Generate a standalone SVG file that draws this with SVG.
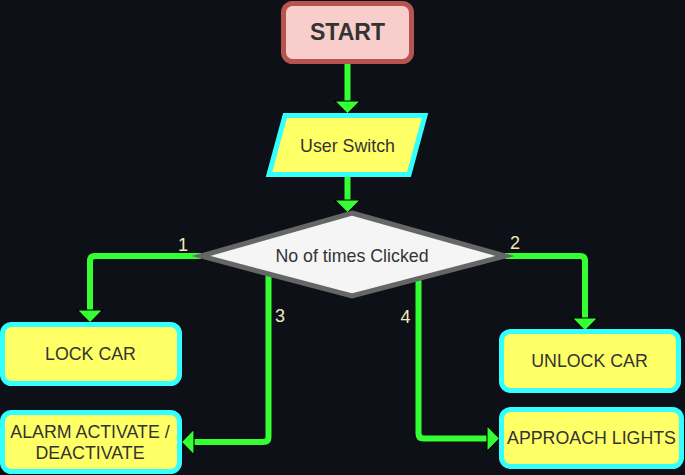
<svg xmlns="http://www.w3.org/2000/svg" width="685" height="475" viewBox="0 0 685 475">
  <defs>
    <style>
      text { font-family: "Liberation Sans", Arial, sans-serif; fill: #333333; font-size: 17.8px; text-anchor: middle; }
      .title { font-weight: bold; font-size: 23px; }
      .lbl { fill: #F5E6BC; font-size: 18px; }
      .conn { fill: none; stroke: #33FF33; stroke-width: 6; stroke-linejoin: round; marker-end: url(#ah); }
      .plain { fill: none; stroke: #33FF33; stroke-width: 6; stroke-linejoin: round; }
      .box { fill: #FFFF66; stroke: #33FFFF; stroke-width: 5; }
    </style>
    <marker id="ah" markerUnits="userSpaceOnUse" markerWidth="16" markerHeight="28" viewBox="-1 -13 15 26" refX="0" refY="0" orient="auto" overflow="visible">
      <path d="M0,-12 L12,0 L0,12 Z" fill="#33FF33" stroke="#000000" stroke-width="1"/>
    </marker>
  </defs>
  <rect x="0" y="0" width="685" height="475" fill="#0D1117"/>

  <g id="connectors">
    <path class="conn" d="M347.5,64 V101"/>
    <path class="conn" d="M347.5,176 V200"/>
    <path class="conn" d="M201,256 H95 Q90,256 90,261 V310"/>
    <path class="conn" d="M505,256 H580 Q585,256 585,261 V318"/>
    <path class="conn" d="M268.5,274 V437 Q268.5,442 263.5,442 H194"/>
    <path class="conn" d="M418.5,279 V433.5 Q418.5,438.5 423.5,438.5 H487"/>
    <text class="lbl" x="183" y="251">1</text>
    <text class="lbl" x="515" y="249">2</text>
    <text class="lbl" x="280" y="322">3</text>
    <text class="lbl" x="405.5" y="323">4</text>
  </g>

  <g id="start">
    <rect x="283.5" y="3.5" width="128" height="58" rx="9" fill="#F8CECC" stroke="#B85450" stroke-width="5"/>
    <text class="title" x="347.5" y="40">START</text>
  </g>

  <g id="user-switch">
    <polygon points="285,115.5 425,115.5 409,174.5 269,174.5" fill="#FFFF66" stroke="#33FFFF" stroke-width="5"/>
    <text x="347.5" y="152">User Switch</text>
  </g>

  <g id="decision">
    <polygon points="352,213 505,256 352,296 201,256" fill="#F5F5F5" stroke="#666666" stroke-width="5"/>
    <text x="352" y="262">No of times Clicked</text>
  </g>

  <g id="lock-car">
    <rect class="box" x="2.5" y="324.5" width="177" height="59" rx="9"/>
    <text x="90.5" y="360">LOCK CAR</text>
  </g>

  <g id="alarm">
    <rect class="box" x="2.5" y="412.5" width="177" height="59" rx="9"/>
    <text x="90" y="438">ALARM ACTIVATE /</text>
    <text x="90" y="459">DEACTIVATE</text>
  </g>

  <g id="unlock-car">
    <rect class="box" x="501.5" y="331.5" width="177" height="59" rx="9"/>
    <text x="589.5" y="367">UNLOCK CAR</text>
  </g>

  <g id="approach-lights">
    <rect class="box" x="501.5" y="409.5" width="180" height="57" rx="9"/>
    <text x="591.5" y="443.5">APPROACH LIGHTS</text>
  </g>
</svg>
